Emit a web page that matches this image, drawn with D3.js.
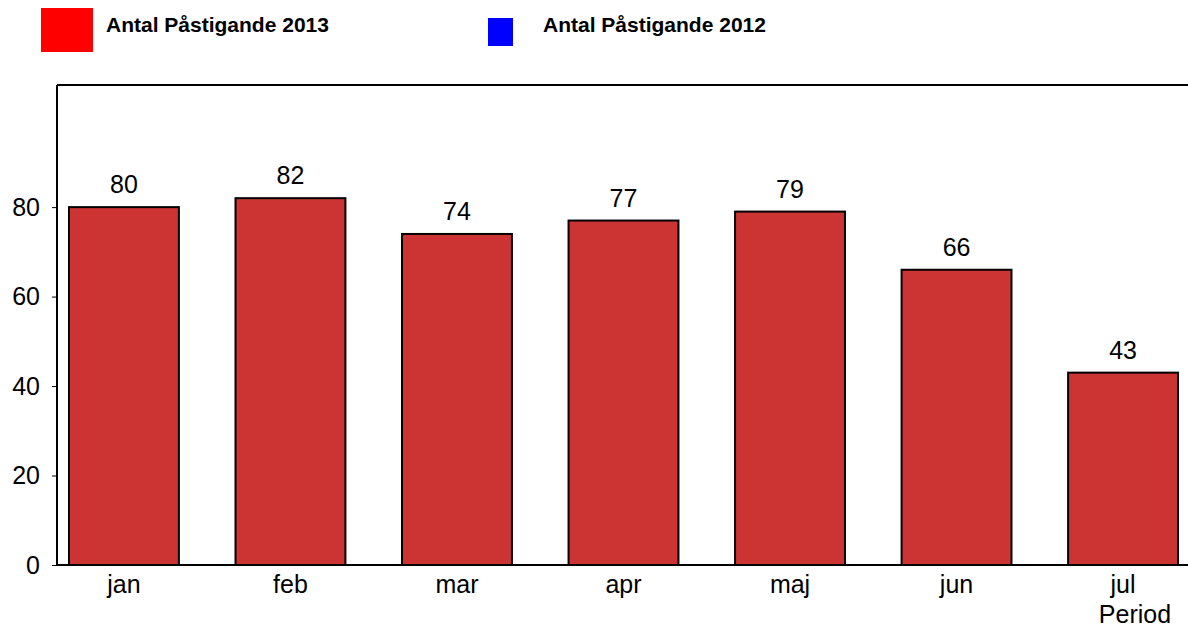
<!DOCTYPE html>
<html>
<head>
<meta charset="utf-8">
<script src="https://cdn.jsdelivr.net/npm/d3@7"></script>
<style>
  body { margin: 0; background: #fff; }
  svg { display: block; font-family: "Liberation Sans", Arial, sans-serif; }
</style>
</head>
<body>
<svg id="chart" width="1188" height="629"></svg>
<script>
const months = ['jan', 'feb', 'mar', 'apr', 'maj', 'jun', 'jul'];
const values2013 = [80, 82, 74, 77, 79, 66, 43];
const yTicks = [0, 20, 40, 60, 80];
const legendLabels = ['Antal Påstigande 2013', 'Antal Påstigande 2012'];
const legendColors = ['#ff0000', '#0000ff'];

const svg = d3.select('#chart');

const plotLeft = 57, plotTop = 85, plotBottom = 565;

const x = d3.scaleBand()
  .domain(months)
  .range([plotLeft, 1190])
  .paddingInner(0.34)
  .paddingOuter(0.072);

const y = d3.scaleLinear()
  .domain([0, 107.3])
  .range([plotBottom, plotTop]);

// legend
svg.append('rect').attr('x', 41).attr('y', 8).attr('width', 52).attr('height', 44)
  .attr('fill', legendColors[0]);
svg.append('rect').attr('x', 488).attr('y', 18).attr('width', 25).attr('height', 28)
  .attr('fill', legendColors[1]);
svg.append('text').attr('x', 106).attr('y', 32).text(legendLabels[0])
  .style('font-size', '21px').style('font-weight', 'bold');
svg.append('text').attr('x', 543).attr('y', 32).text(legendLabels[1])
  .style('font-size', '21px').style('font-weight', 'bold');

// bars
svg.selectAll('rect.bar')
  .data(values2013)
  .enter()
  .append('rect')
  .attr('class', 'bar')
  .attr('x', (d, i) => x(months[i]))
  .attr('y', (d) => y(d))
  .attr('width', x.bandwidth())
  .attr('height', (d) => y(0) - y(d))
  .attr('fill', '#cc3333')
  .attr('stroke', '#000')
  .attr('stroke-width', 2);

// value labels
svg.selectAll('text.val')
  .data(values2013)
  .enter()
  .append('text')
  .attr('class', 'val')
  .attr('x', (d, i) => x(months[i]) + x.bandwidth() / 2)
  .attr('y', (d) => y(d) - 14)
  .attr('text-anchor', 'middle')
  .style('font-size', '25px')
  .text((d) => d);

// frame top
svg.append('line').attr('x1', plotLeft).attr('x2', 1188).attr('y1', plotTop).attr('y2', plotTop)
  .attr('stroke', '#000').attr('stroke-width', 2);

// y axis
const yAxis = svg.append('g')
  .attr('transform', `translate(${plotLeft},0)`)
  .call(d3.axisLeft(y).tickValues(yTicks).tickSize(5).tickSizeOuter(0).tickPadding(12));
yAxis.select('.domain').attr('stroke', '#000').attr('stroke-width', 2)
  .attr('d', `M0,${plotTop}V${plotBottom}`);
yAxis.selectAll('.tick line').attr('stroke', '#000');
yAxis.selectAll('text').style('font-size', '25px').attr('fill', '#000');

// x axis
const xAxis = svg.append('g')
  .attr('transform', `translate(0,${plotBottom})`)
  .call(d3.axisBottom(x).tickSize(0).tickPadding(10));
xAxis.select('.domain').attr('stroke', '#000').attr('stroke-width', 2)
  .attr('d', `M${plotLeft},0H1188`);
xAxis.selectAll('text').style('font-size', '25px').attr('fill', '#000');

// axis title
svg.append('text')
  .attr('x', 1135)
  .attr('y', 623)
  .attr('text-anchor', 'middle')
  .style('font-size', '25px')
  .text('Period');
</script>
</body>
</html>
